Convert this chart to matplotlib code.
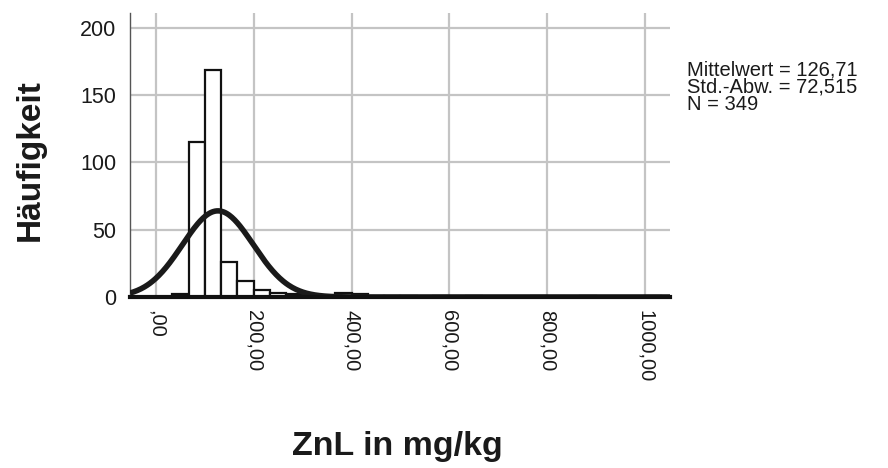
import numpy as np
import matplotlib
matplotlib.use("Agg")
import matplotlib.pyplot as plt

plt.rcParams['font.family'] = ['Liberation Sans', 'DejaVu Sans']

# ZnL histogram (SPSS style), bins of 1000/30 mg/kg starting at 0
bin_width = 1000 / 30
counts = [0, 2, 115, 169, 26, 12, 5, 3, 2, 1, 1, 3, 2, 1, 1, 1,
          0, 1, 0, 1, 0, 0, 0, 1, 0, 0, 1, 0, 0, 0, 1]
mean = 126.71
std = 72.515
n = 349

x_ticks = [0, 200, 400, 600, 800, 1000]
x_ticklabels = [",00", "200,00", "400,00", "600,00", "800,00", "1000,00"]
y_ticks = [0, 50, 100, 150, 200]
stats_lines = ["Mittelwert = 126,71", "Std.-Abw. = 72,515", "N = 349"]

fig = plt.figure(figsize=(8.88, 4.68), dpi=100)
ax = fig.add_axes([130 / 888, 1 - 297 / 468, 540 / 888, 284 / 468])

xmin, xmax = -53, 1051
edges = np.arange(len(counts)) * bin_width
ax.bar(edges, counts, width=bin_width, align='edge', facecolor='white',
       edgecolor='#111111', linewidth=1.6, zorder=2)

# normal curve scaled to the histogram
xs = np.linspace(xmin, xmax, 600)
ys = n * bin_width / (std * np.sqrt(2 * np.pi)) * np.exp(-0.5 * ((xs - mean) / std) ** 2)
ax.plot(xs, ys, color='#1a1a1a', linewidth=4.0, zorder=3, solid_capstyle='butt')

ax.set_xlim(xmin, xmax)
ax.set_ylim(0, 211)
ax.set_xticks(x_ticks)
ax.set_xticklabels(x_ticklabels, rotation=-90, fontsize=14.5, color='#1a1a1a')
ax.set_yticks(y_ticks)
ax.set_yticklabels([str(v) for v in y_ticks], fontsize=15.5, color='#1a1a1a')
ax.tick_params(axis='both', length=0)
ax.tick_params(axis='x', pad=9)
ax.tick_params(axis='y', pad=10)

ax.grid(True, color='#c4c4c4', linewidth=1.6, zorder=0)
ax.set_axisbelow(True)

for side in ['top', 'right']:
    ax.spines[side].set_visible(False)
ax.spines['left'].set_color('#555555')
ax.spines['left'].set_linewidth(1.0)
ax.spines['bottom'].set_color('#111111')
ax.spines['bottom'].set_linewidth(3.0)
ax.spines['bottom'].set_zorder(4)

fig.text(30 / 888, 1 - 160 / 468, "Häufigkeit", rotation=90, ha='center',
         va='center', fontsize=24, fontweight='bold', color='#1a1a1a')
fig.text(397 / 888, 1 - 446 / 468, "ZnL in mg/kg", ha='center', va='center',
         fontsize=24.5, fontweight='bold', color='#1a1a1a')

for i, line in enumerate(stats_lines):
    fig.text(687 / 888, 1 - (75 + 17.5 * i) / 468, line, ha='left',
             va='baseline', fontsize=14.5, color='#1a1a1a')

fig.savefig("out.png", dpi=100, facecolor='white')
